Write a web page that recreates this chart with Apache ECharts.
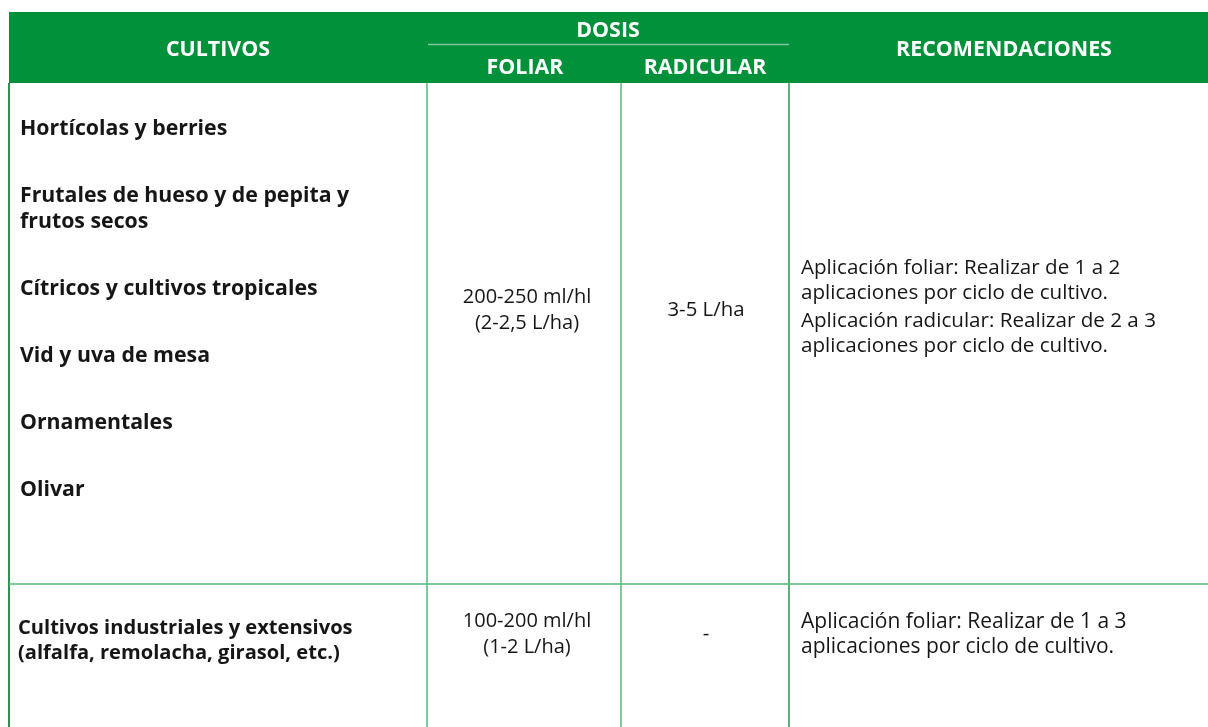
<!DOCTYPE html>
<html>
<head>
<meta charset="utf-8">
<script src="https://cdn.jsdelivr.net/npm/echarts@6/dist/echarts.min.js"></script>
<style>
  html, body { margin: 0; padding: 0; background: #ffffff; }
  #chart { width: 1208px; height: 727px; }
</style>
</head>
<body>
<div id="chart"></div>
<script>
// ---- Data ----
const headerTop = ['CULTIVOS', 'DOSIS', 'RECOMENDACIONES'];
const headerSub = ['FOLIAR', 'RADICULAR'];
const cropsGroup1 = [
  'Hortícolas y berries',
  'Frutales de hueso y de pepita y\nfrutos secos',
  'Cítricos y cultivos tropicales',
  'Vid y uva de mesa',
  'Ornamentales',
  'Olivar'
];
const cropsGroup2 = ['Cultivos industriales y extensivos\n(alfalfa, remolacha, girasol, etc.)'];
const foliarDose = ['200-250 ml/hl\n(2-2,5 L/ha)', '100-200 ml/hl\n(1-2 L/ha)'];
const radicularDose = ['3-5 L/ha', '-'];
const recommendations = [
  ['Aplicación foliar: Realizar de 1 a 2\naplicaciones por ciclo de cultivo.',
   'Aplicación radicular: Realizar de 2 a 3\naplicaciones por ciclo de cultivo.'],
  ['Aplicación foliar: Realizar de 1 a 3\naplicaciones por ciclo de cultivo.']
];

// ---- Layout ----
const FONT = '"Open Sans", "Noto Sans", sans-serif';
const GREEN = '#00913A';
const colX = [9, 427, 621, 789, 1219];
const headY = [12, 83];
const rowY = [83, 584, 760];
const bodyLH = 26.5;
const cropGap = 40.5;
const recLH = 25;
const recGap = 3;

const els = [];
// header band
els.push({ type: 'rect', shape: { x: colX[0], y: headY[0], width: colX[4] - colX[0], height: headY[1] - headY[0] }, style: { fill: GREEN }, silent: true });
// dosis divider
els.push({ type: 'line', shape: { x1: colX[1] + 1, y1: 44.5, x2: colX[3], y2: 44.5 }, style: { stroke: 'rgba(255,255,255,0.5)', lineWidth: 1.5 } });

function headText(t, cx, cy) {
  els.push({ type: 'text', x: cx, y: cy, style: { text: t, fill: '#ffffff', font: 'bold 21.4px ' + FONT, align: 'center', verticalAlign: 'middle' } });
}
headText(headerTop[0], (colX[0] + colX[1]) / 2, 50);
headText(headerTop[1], (colX[1] + colX[3]) / 2, 30.5);
headText(headerTop[2], (colX[3] + colX[4]) / 2, 50);
headText(headerSub[0], (colX[1] + colX[2]) / 2 + 1, 67.5);
headText(headerSub[1], (colX[2] + colX[3]) / 2, 67.5);

// grid lines
const vLines = [
  { x: colX[0], c: '#1f9a52', w: 2 },
  { x: colX[1], c: '#7fcb9b', w: 2 },
  { x: colX[2], c: '#7fcb9b', w: 2 },
  { x: colX[3], c: '#1f9a52', w: 1.5 }
];
vLines.forEach(v => els.push({ type: 'line', shape: { x1: v.x, y1: headY[1], x2: v.x, y2: 727 }, style: { stroke: v.c, lineWidth: v.w } }));
els.push({ type: 'line', shape: { x1: colX[0], y1: rowY[1], x2: colX[4], y2: rowY[1] }, style: { stroke: '#4fb878', lineWidth: 1.5 } });

function bodyText(t, x, topY, align, weight, size, lh) {
  els.push({ type: 'text', x: x, y: topY, style: { text: t, fill: '#161616', font: weight + ' ' + size + 'px ' + FONT, align: align, verticalAlign: 'top', lineHeight: lh } });
}

// group 1 crops
let y = 128.5 - bodyLH / 2;
cropsGroup1.forEach(t => {
  bodyText(t, 20, y, 'left', 'bold', 21.3, bodyLH);
  y += t.split('\n').length * bodyLH + cropGap;
});
// group 2 crops
bodyText(cropsGroup2[0], 18, 628 - 12.5, 'left', 'bold', 20.1, 25);

// doses
const doseCenters = [310, 634];
foliarDose.forEach((t, i) => {
  const n = t.split('\n').length;
  bodyText(t, (colX[1] + colX[2]) / 2 + 3, doseCenters[i] - n * 26 / 2, 'center', 'normal', 20, 26);
});
radicularDose.forEach((t, i) => {
  bodyText(t, (colX[2] + colX[3]) / 2 + 1, doseCenters[i] - 13, 'center', 'normal', 20.4, 26);
});

// recommendations
const recStarts = [268 - recLH / 2, 622 - recLH / 2];
const recSizes = [20.6, 21];
recommendations.forEach((paras, i) => {
  let yy = recStarts[i];
  paras.forEach(p => {
    bodyText(p, 801, yy, 'left', 'normal', recSizes[i], recLH);
    yy += p.split('\n').length * recLH + recGap;
  });
});

const chart = echarts.init(document.getElementById('chart'), null, { renderer: 'canvas' });
chart.setOption({ backgroundColor: '#ffffff', animation: false, graphic: { elements: els } });
</script>
</body>
</html>
